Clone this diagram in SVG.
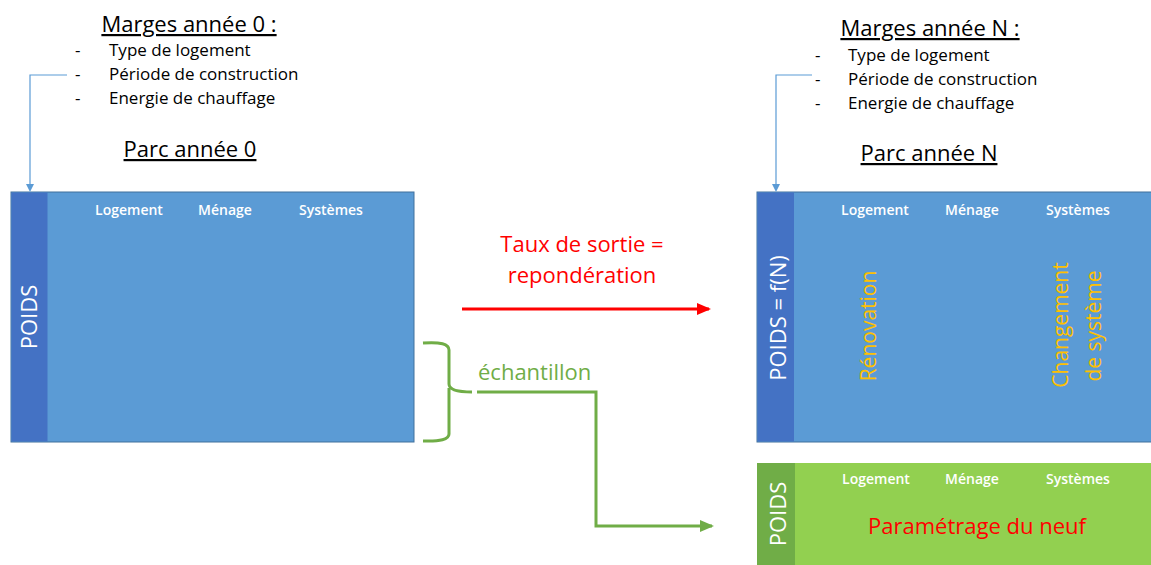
<svg xmlns="http://www.w3.org/2000/svg" width="1151" height="565" viewBox="0 0 1151 565">
<defs>
<style>
.t{font-family:"Open Sans","Liberation Sans",sans-serif;fill:#000}
.title{font-size:22px;text-decoration:underline;text-anchor:middle}
.li{font-size:17px}
.hd{font-family:"Open Sans","Liberation Sans",sans-serif;font-size:14px;font-weight:600;fill:#fff;text-anchor:middle}
.vw{font-family:"Open Sans","Liberation Sans",sans-serif;font-size:22px;fill:#fff;text-anchor:middle}
.vo{font-family:"Open Sans","Liberation Sans",sans-serif;font-size:21px;fill:#FFC000;text-anchor:middle}
.red{font-family:"Open Sans","Liberation Sans",sans-serif;font-size:22px;fill:#FF0000;text-anchor:middle}
.grn{font-family:"Open Sans","Liberation Sans",sans-serif;font-size:22px;fill:#70AD47}
.blueline{fill:none;stroke:#5B9BD5;stroke-width:1.2}
.gline{fill:none;stroke:#70AD47;stroke-width:3}
</style>
<marker id="ab" markerWidth="8" markerHeight="8" refX="6" refY="4" orient="auto" markerUnits="userSpaceOnUse"><path d="M0,0 L8,4 L0,8 z" fill="#5B9BD5"/></marker>
<marker id="ar" markerWidth="14" markerHeight="12" refX="12" refY="6" orient="auto" markerUnits="userSpaceOnUse"><path d="M0,0 L14,6 L0,12 z" fill="#FF0000"/></marker>
<marker id="ag" markerWidth="14" markerHeight="12" refX="12" refY="6" orient="auto" markerUnits="userSpaceOnUse"><path d="M0,0 L14,6 L0,12 z" fill="#70AD47"/></marker>
</defs>

<g id="marges0">
<text class="t title" x="189" y="32">Marges année 0 :</text>
<text class="t li" x="75" y="56">-</text><text class="t li" x="109" y="56">Type de logement</text>
<text class="t li" x="75" y="80">-</text><text class="t li" x="109" y="80">Période de construction</text>
<text class="t li" x="75" y="104">-</text><text class="t li" x="109" y="104">Energie de chauffage</text>
<text class="t title" x="190" y="157">Parc année 0</text>
</g>

<g id="margesN">
<text class="t title" x="930" y="36">Marges année N :</text>
<text class="t li" x="815" y="61">-</text><text class="t li" x="848" y="61">Type de logement</text>
<text class="t li" x="815" y="85">-</text><text class="t li" x="848" y="85">Période de construction</text>
<text class="t li" x="815" y="109">-</text><text class="t li" x="848" y="109">Energie de chauffage</text>
<text class="t title" x="929" y="161">Parc année N</text>
</g>

<g id="parc0">
<rect x="11" y="192" width="403" height="250" fill="#5B9BD5" stroke="#41719C" stroke-width="1"/>
<rect x="11.5" y="192.5" width="36" height="249" fill="#4472C4"/>
<text class="vw" transform="translate(37,317) rotate(-90)">POIDS</text>
<text class="hd" x="129" y="215">Logement</text>
<text class="hd" x="225" y="215">Ménage</text>
<text class="hd" x="331" y="215">Systèmes</text>
</g>

<g id="parcN">
<rect x="757" y="192" width="400" height="250" fill="#5B9BD5" stroke="#41719C" stroke-width="1"/>
<rect x="757.5" y="192.5" width="36.5" height="249" fill="#4472C4"/>
<text class="vw" transform="translate(786,318) rotate(-90)">POIDS = f(N)</text>
<text class="hd" x="875" y="215">Logement</text>
<text class="hd" x="972" y="215">Ménage</text>
<text class="hd" x="1078" y="215">Systèmes</text>
<text class="vo" transform="translate(876,326) rotate(-90)">Rénovation</text>
<text class="vo" transform="translate(1068,325) rotate(-90)">Changement</text>
<text class="vo" transform="translate(1101,326) rotate(-90)">de système</text>
</g>

<g id="neuf">
<rect x="757" y="463" width="400" height="105" fill="#92D050"/>
<rect x="757" y="463" width="38" height="105" fill="#70AD47"/>
<text class="vw" transform="translate(786,514) rotate(-90)">POIDS</text>
<text class="hd" x="876" y="484">Logement</text>
<text class="hd" x="972" y="484">Ménage</text>
<text class="hd" x="1078" y="484">Systèmes</text>
<text class="red" x="977" y="534">Paramétrage du neuf</text>
</g>

<g id="labels">
<text class="red" x="582" y="252">Taux de sortie =</text>
<text class="red" x="582" y="283">repondération</text>
<text class="grn" x="478" y="380">échantillon</text>
</g>

<g id="connectors">
<path class="blueline" d="M67,75 H30 V190" marker-end="url(#ab)"/>
<path class="blueline" d="M812,75 H776 V190" marker-end="url(#ab)"/>
<path d="M462,309 H709" stroke="#FF0000" stroke-width="3" fill="none" marker-end="url(#ar)"/>
<path class="gline" d="M423,343 Q449,341 449,350 V384 Q449,392 472,392 M449,388 Q449,392 449,396 V434 Q449,442 423,441"/>
<path class="gline" d="M477,392 H596 V526 H712" marker-end="url(#ag)"/>
</g>
</svg>
